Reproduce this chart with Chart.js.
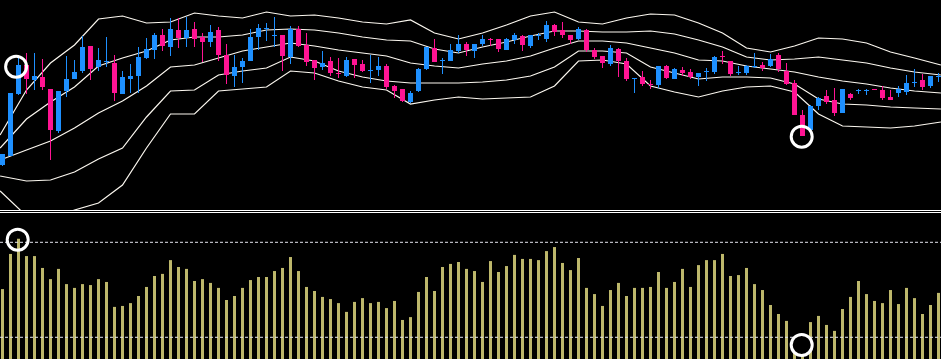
<!DOCTYPE html>
<html>
<head>
<meta charset="utf-8">
<script src="https://cdn.jsdelivr.net/npm/chart.js@4.4.1/dist/chart.umd.min.js"></script>
<style>
  html, body { margin: 0; padding: 0; background: #000; }
  body { width: 941px; height: 359px; position: relative; overflow: hidden; }
  #price { position: absolute; left: 0; top: 0; }
  #osc { position: absolute; left: 0; top: 213px; }
  .sep { position: absolute; left: 0; width: 941px; height: 1px; background: #fff; }
</style>
</head>
<body>
<canvas id="price" width="941" height="210"></canvas>
<div class="sep" style="top:210px"></div>
<div class="sep" style="top:212px"></div>
<canvas id="osc" width="941" height="146"></canvas>
<script>
// candles in panel units (0 = top edge of price panel, axis reversed)
const opens = [165, 156, 94, 65, 80, 77, 89, 131, 91, 79,
  71, 46, 67, 62, 63, 94, 79, 76, 58, 50,
  35, 47, 30, 38, 29, 37, 42, 30, 55, 76,
  67, 61, 37, 29, 36, 35, 57, 29, 45, 60,
  67, 61, 73, 76, 59, 64, 71, 70, 66, 86,
  89, 102, 91, 69, 48, 61, 61, 51, 44, 51,
  44, 39, 39, 50, 40, 36, 46, 36, 39, 25,
  30, 35, 39, 30, 50, 56, 64, 49, 61, 79,
  77, 84, 85, 66, 79, 70, 72, 77, 72, 72,
  56, 61, 73, 73, 67, 65, 66, 55, 71, 83,
  115, 130, 106, 96, 100, 113, 94, 91, 91, 89,
  90, 97, 93, 92, 83, 80, 86, 77];
const highs = [154, 93, 58, 53, 53, 59, 89, 91, 56, 60,
  36, 46, 48, 37, 55, 71, 64, 47, 38, 33,
  29, 18, 18, 17, 22, 33, 25, 27, 44, 55,
  58, 29, 24, 23, 17, 35, 26, 26, 33, 60,
  51, 57, 58, 57, 59, 60, 55, 57, 64, 85,
  89, 91, 68, 47, 39, 58, 44, 35, 42, 44,
  35, 38, 39, 38, 33, 35, 35, 33, 21, 24,
  22, 35, 27, 29, 48, 56, 45, 48, 58, 78,
  71, 80, 66, 65, 68, 67, 69, 73, 68, 56,
  51, 61, 66, 65, 53, 62, 54, 53, 63, 80,
  110, 105, 97, 90, 88, 89, 93, 89, 89, 89,
  86, 90, 86, 75, 69, 74, 76, 73];
const lows = [166, 156, 95, 94, 90, 90, 160, 133, 97, 79,
  73, 80, 71, 67, 101, 94, 93, 93, 59, 59,
  51, 56, 48, 47, 47, 62, 47, 61, 84, 87,
  83, 61, 50, 41, 47, 71, 64, 47, 66, 80,
  70, 76, 78, 77, 78, 72, 83, 76, 89, 98,
  102, 103, 92, 70, 62, 74, 61, 53, 56, 58,
  46, 46, 52, 50, 44, 51, 48, 40, 42, 36,
  38, 44, 40, 52, 59, 68, 66, 77, 81, 93,
  86, 89, 88, 79, 79, 76, 79, 86, 81, 74,
  64, 76, 75, 75, 68, 71, 67, 72, 85, 115,
  136, 131, 110, 104, 116, 113, 100, 94, 95, 90,
  100, 100, 97, 95, 87, 90, 88, 82];
const closes = [154, 93, 65, 79, 76, 87, 130, 91, 79, 72,
  47, 69, 60, 61, 93, 77, 76, 57, 49, 35,
  46, 29, 38, 30, 39, 42, 32, 55, 75, 67,
  61, 37, 28, 28, 35, 56, 29, 46, 62, 68,
  63, 73, 74, 60, 65, 71, 70, 66, 87, 91,
  101, 93, 69, 47, 62, 60, 50, 44, 50, 44,
  39, 40, 49, 39, 35, 45, 35, 35, 25, 32,
  35, 40, 29, 50, 57, 63, 48, 61, 79, 78,
  84, 85, 66, 78, 69, 73, 77, 73, 71, 57,
  57, 74, 72, 66, 66, 68, 59, 69, 84, 115,
  136, 106, 98, 102, 113, 89, 98, 90, 90, 90,
  98, 100, 89, 83, 82, 87, 76, 76];

// bollinger lines, sampled every 3 candles
const bandX = [-0.3, 3, 6, 9, 12, 15, 18, 21, 24, 27, 30, 33, 36, 39, 42, 45, 48, 51, 54, 57,
  60, 63, 66, 69, 72, 75, 78, 81, 84, 87, 90, 93, 96, 99, 102, 105, 108, 111, 114, 117.3];
const upper2 = [135, 90, 63, 45, 19, 16, 23, 22, 13, 16, 18, 12, 16, 15, 18, 22, 24, 20, 33, 39,
  33, 25, 16, 12, 22, 24, 18, 14, 15, 23, 33, 48, 52, 46, 38, 39, 43, 52, 58, 65];
const upper1 = [148, 119, 102, 87, 66, 58, 51, 40, 37, 37, 35, 30, 29, 30, 33, 37, 40, 41, 49, 53,
  47, 42, 36, 31, 31, 32, 32, 31, 34, 40, 47, 57, 60, 59, 57, 60, 63, 68, 72, 75];
const middle = [160, 150, 141, 128, 113, 101, 86, 67, 65, 58, 51, 47, 43, 46, 50, 53, 56, 63, 66, 68,
  64, 61, 56, 48, 41, 41, 43, 48, 53, 60, 61, 66, 69, 72, 77, 81, 84, 88, 91, 93];
const lower1 = [176, 181, 180, 172, 159, 148, 117, 91, 90, 75, 71, 68, 57, 61, 71, 77, 81, 83, 83, 83,
  82, 80, 76, 67, 51, 51, 53, 67, 73, 79, 77, 77, 78, 84, 99, 104, 105, 107, 108, 109];
const lower2 = [191, 216, 220, 210, 203, 185, 148, 114, 114, 91, 89, 87, 71, 73, 81, 87, 90, 104, 100, 97,
  99, 98, 97, 86, 61, 60, 64, 86, 92, 97, 91, 87, 86, 92, 114, 126, 127, 128, 126, 122];

// oscillator bars
const oscValues = [50.3, 65.1, 71.5, 64.2, 64.2, 59.2, 54.5, 58.8, 52.4, 50.8,
  52.4, 52.0, 54.5, 53.3, 42.8, 43.2, 44.4, 47.4, 51.2, 55.8,
  56.7, 62.5, 59.6, 58.8, 53.7, 54.5, 52.9, 50.8, 45.7, 47.4,
  50.8, 54.1, 55.4, 55.4, 57.9, 59.2, 63.8, 57.9, 51.2, 49.5,
  47.0, 46.1, 44.4, 40.7, 44.9, 46.5, 44.4, 44.9, 42.3, 45.3,
  37.3, 38.5, 49.1, 55.4, 49.5, 59.6, 60.9, 61.7, 58.8, 57.9,
  53.3, 62.1, 57.5, 60.0, 64.7, 63.0, 63.0, 62.5, 66.3, 68.0,
  61.3, 58.3, 63.4, 50.8, 48.2, 43.2, 49.9, 52.9, 47.4, 50.8,
  50.8, 51.2, 57.5, 50.8, 53.3, 58.8, 51.2, 60.4, 62.5, 62.5,
  65.1, 55.8, 56.2, 59.2, 52.4, 49.9, 43.6, 39.8, 36.9, 29.0,
  26.0, 36.4, 39.0, 35.2, 32.7, 41.9, 47.0, 53.7, 48.2, 45.3,
  44.4, 49.9, 44.0, 50.8, 46.5, 39.8, 43.6, 48.7];
const oscLevels = [70, 30];

// circled turning points
const priceMarks = [{ x: 1.7, y: 66.7 }, { x: 99.9, y: 136.7 }];
const oscTopMarks = [{ x: 1.9, y: 71.1 }];
const oscLowMarks = [{ x: 99.9, y: 26.8 }];

const X_MIN = -0.3125;
const X_MAX = 117.3125;
const UP = "#1e90ff";
const DOWN = "#ff1493";
const BAND = "#fbf7ef";

const candleColors = closes.map((c, i) => (c < opens[i] ? UP : DOWN));

const bandLine = (vals) => ({
  type: "line",
  data: vals.map((v, i) => ({ x: bandX[i], y: v })),
  borderColor: BAND,
  borderWidth: 1.2,
  pointRadius: 0,
  tension: 0,
  order: 5,
});

const ring = (pts, fill) => ({
  type: "line",
  data: pts,
  showLine: false,
  pointRadius: 10.5,
  pointBorderWidth: 3,
  pointBorderColor: "#ffffff",
  pointBackgroundColor: fill,
  order: 0,
});

const hideScale = (extra) => Object.assign({ display: false }, extra);

// no auto padding, otherwise the rings push the plot area inwards
const baseOptions = (yScale) => ({
  responsive: false,
  animation: false,
  events: [],
  layout: { padding: 0, autoPadding: false },
  plugins: { legend: { display: false }, tooltip: { enabled: false } },
  scales: {
    x: hideScale({ type: "linear", offset: false, min: X_MIN, max: X_MAX }),
    y: hideScale(yScale),
  },
});

new Chart(document.getElementById("price"), {
  type: "bar",
  data: {
    datasets: [
      bandLine(upper2),
      bandLine(upper1),
      bandLine(middle),
      bandLine(lower1),
      bandLine(lower2),
      {
        data: highs.map((h, i) => ({ x: i, y: [h, lows[i]] })),
        backgroundColor: candleColors,
        barThickness: 1,
        grouped: false,
        inflateAmount: 0,
        order: 3,
      },
      {
        data: opens.map((o, i) => ({ x: i, y: [o, closes[i]] })),
        backgroundColor: candleColors,
        barThickness: 5,
        grouped: false,
        inflateAmount: 0,
        order: 2,
      },
      ring(priceMarks, "rgba(0,0,0,0)"),
    ],
  },
  options: baseOptions({ reverse: true, min: 0, max: 210, beginAtZero: false }),
});

new Chart(document.getElementById("osc"), {
  type: "bar",
  data: {
    datasets: [
      {
        data: oscValues.map((v, i) => ({ x: i, y: v })),
        backgroundColor: "#bdb76b",
        barThickness: 3,
        grouped: false,
        inflateAmount: 0,
        order: 4,
      },
      ...oscLevels.map((lv) => ({
        type: "line",
        data: [{ x: X_MIN, y: lv }, { x: X_MAX, y: lv }],
        borderColor: "#e4e4ee",
        borderWidth: 1,
        borderDash: [3, 2],
        pointRadius: 0,
        order: 2,
      })),
      ring(oscTopMarks, "rgba(0,0,0,0)"),
      ring(oscLowMarks, "#000000"),
    ],
  },
  options: baseOptions({ min: 20.86, max: 82.34, beginAtZero: false }),
});
</script>
</body>
</html>
